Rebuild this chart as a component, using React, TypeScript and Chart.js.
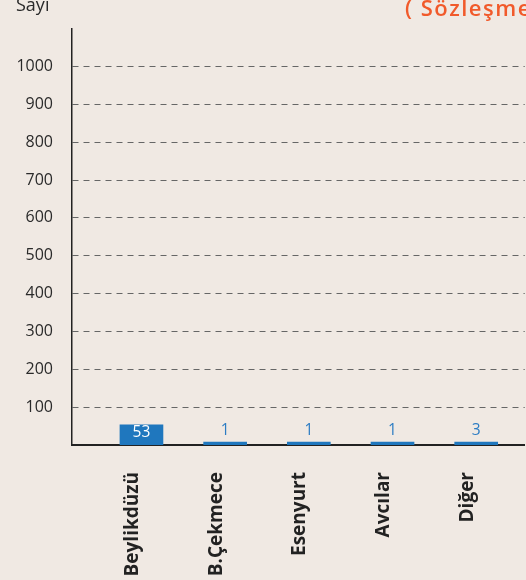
import React, { useEffect, useRef } from "react";
import { Chart, registerables } from "chart.js";

Chart.register(...registerables);

const categories = ["Beylikdüzü", "B.Çekmece", "Esenyurt", "Avcılar", "Diğer"];
const values = [53, 1, 1, 1, 3];
const yTickValues = [100, 200, 300, 400, 500, 600, 700, 800, 900, 1000];
const yAxisTitle = "Sayı";
const chartTitle = "( Sözleşme Sayısı )";

const BG = "#f0e9e3";
const BAR = "#1f77be";
const LABEL_BLUE = "#2c7cc3";
const FONT = '"Open Sans", "Noto Sans", sans-serif';

export default function App() {
  const ref = useRef<HTMLCanvasElement | null>(null);

  useEffect(() => {
    document.body.style.margin = "0";
    document.body.style.background = BG;
    const canvas = ref.current;
    if (!canvas) return;

    const overlay = {
      id: "overlay",
      beforeDraw(chart: any) {
        const ctx = chart.ctx;
        ctx.save();
        ctx.fillStyle = BG;
        ctx.fillRect(0, 0, chart.width, chart.height);
        ctx.restore();
      },
      afterDatasetsDraw(chart: any) {
        const ctx = chart.ctx;
        const meta = chart.getDatasetMeta(0);
        ctx.save();
        ctx.font = `15.5px ${FONT}`;
        ctx.textAlign = "center";
        ctx.textBaseline = "middle";
        meta.data.forEach((bar: any, i: number) => {
          const { x, y, base } = bar.getProps(["x", "y", "base"], true);
          const h = base - y;
          if (h > 16) {
            ctx.fillStyle = "#ffffff";
            ctx.fillText(String(values[i]), x, (y + base) / 2 - 2);
          } else {
            ctx.fillStyle = LABEL_BLUE;
            ctx.fillText(String(values[i]), x, y - 11);
          }
        });
        ctx.restore();
      },
      afterDraw(chart: any) {
        const ctx = chart.ctx;
        ctx.save();
        ctx.textBaseline = "alphabetic";
        ctx.textAlign = "left";
        ctx.fillStyle = "#2a2a2a";
        ctx.font = `18px ${FONT}`;
        ctx.fillText(yAxisTitle, 16, 11);
        ctx.fillStyle = "#f15a2b";
        ctx.font = `600 22px ${FONT}`;
        (ctx as any).letterSpacing = "1.5px";
        ctx.fillText(chartTitle, 405, 15.5);
        ctx.restore();
      },
    };

    const chart = new Chart(canvas, {
      type: "bar",
      data: {
        datasets: [
          {
            data: values.map((v, i) => ({ x: i, y: v })),
            backgroundColor: BAR,
            borderWidth: 0,
            barThickness: 43,
            minBarLength: 3,
          },
        ],
      },
      options: {
        responsive: false,
        animation: false,
        events: [],
        layout: { padding: { top: 22, left: 0, right: 0, bottom: 0 } },
        plugins: {
          legend: { display: false },
          tooltip: { enabled: false },
          title: { display: false },
        },
        scales: {
          x: {
            type: "linear",
            offset: false,
            min: -0.83,
            max: 4.58,
            afterBuildTicks: (scale: any) => {
              scale.ticks = categories.map((_, i) => ({ value: i }));
            },
            afterFit: (scale: any) => {
              scale.height = 135;
            },
            grid: { display: false, drawTicks: false, offset: false },
            border: { display: true, color: "#222", width: 2 },
            ticks: {
              autoSkip: false,
              minRotation: 90,
              maxRotation: 90,
              padding: 27,
              labelOffset: -9,
              color: "#222",
              font: { family: FONT, size: 19, weight: "bold" },
              callback: (v: any) => categories[Math.round(Number(v))] ?? "",
            },
          },
          y: {
            type: "linear",
            min: 0,
            max: 1100,
            afterBuildTicks: (scale: any) => {
              scale.ticks = yTickValues.map((v) => ({ value: v }));
            },
            afterFit: (scale: any) => {
              scale.width = 72;
            },
            grid: { color: "#666", lineWidth: 1, drawTicks: false },
            border: { display: true, color: "#222", width: 1.5, dash: [6, 5] },
            ticks: {
              padding: 19,
              color: "#2a2a2a",
              font: { family: FONT, size: 16 },
              callback: (v: any) => String(v),
            },
          },
        },
      },
      plugins: [overlay],
    } as any);

    return () => chart.destroy();
  }, []);

  return (
    <div style={{ width: 526, height: 580, background: BG, overflow: "hidden" }}>
      <canvas ref={ref} width={526} height={580} style={{ display: "block" }} />
    </div>
  );
}
